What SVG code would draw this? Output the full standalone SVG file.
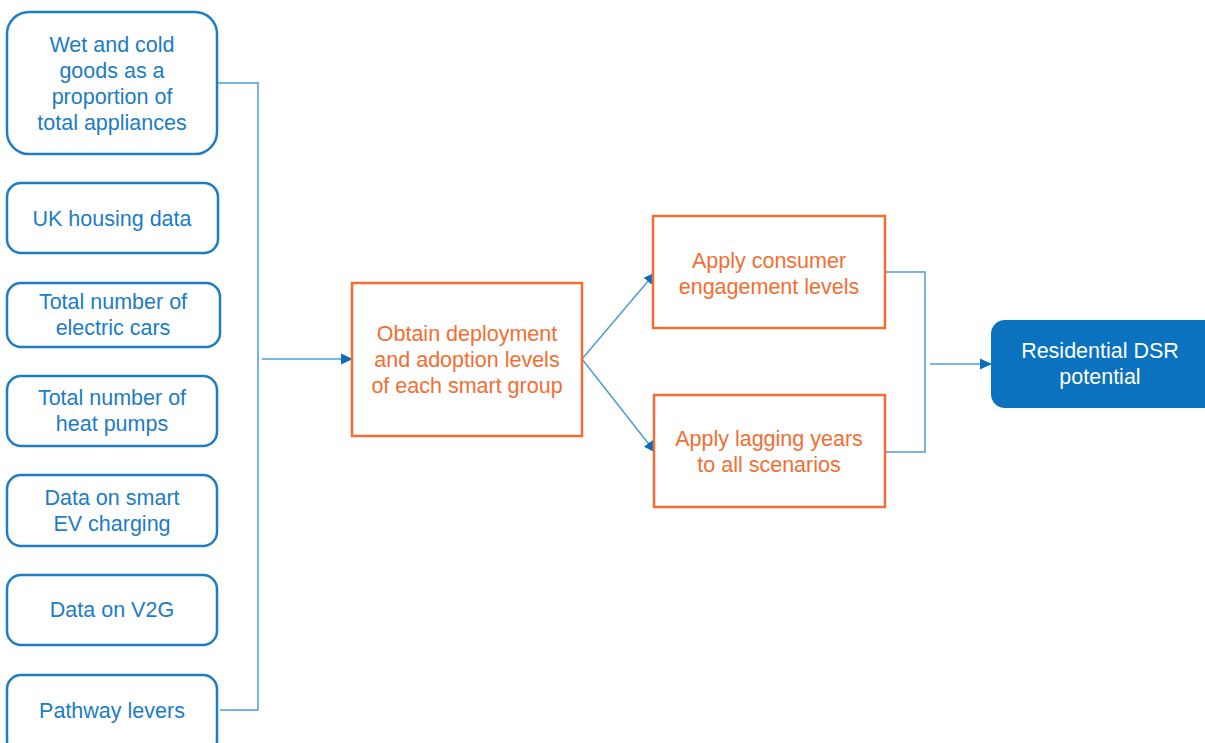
<svg xmlns="http://www.w3.org/2000/svg" width="1205" height="743" viewBox="0 0 1205 743">
<style>
.in rect{fill:#fff;stroke:#1C7CC4;stroke-width:2.5}
.in text{fill:#1C7CC4}
.pr rect{fill:#fff;stroke:#F26E32;stroke-width:2.5}
.pr text{fill:#F26E32}
text{font-family:"Liberation Sans",Arial,sans-serif;font-size:21.5px;text-anchor:middle}
.out rect{fill:#0A72BE}
.out text{fill:#fff}
.cn{fill:none;stroke:#4F9BD5;stroke-width:1.5}
</style>
<defs>
<marker id="ah" viewBox="0 0 12 12" refX="11" refY="6" markerWidth="12" markerHeight="12" markerUnits="userSpaceOnUse" orient="auto">
<path d="M0,0.5 L12,6 L0,11.5 z" fill="#0A6EBD"/>
</marker>
</defs>
<rect width="1205" height="743" fill="#fff"/>
<g id="connectors">
<polyline class="cn" points="217,83 258,83 258,710 220,710"/>
<line class="cn" x1="262" y1="359" x2="352" y2="359" marker-end="url(#ah)"/>
<line class="cn" x1="582" y1="359" x2="655" y2="273" marker-end="url(#ah)"/>
<line class="cn" x1="582" y1="359" x2="655" y2="452" marker-end="url(#ah)"/>
<polyline class="cn" points="885,272 925,272 925,452 885,452"/>
<line class="cn" x1="930" y1="364" x2="991" y2="364" marker-end="url(#ah)"/>
</g>
<g id="n1" class="in"><rect x="7" y="12" width="210" height="142" rx="22"/>
<text x="112" y="52">Wet and cold</text><text x="112" y="78">goods as a</text><text x="112" y="104">proportion of</text><text x="112" y="130">total appliances</text></g>
<g id="n2" class="in"><rect x="7" y="183" width="211" height="70" rx="14"/>
<text x="112" y="226">UK housing data</text></g>
<g id="n3" class="in"><rect x="7" y="283" width="213" height="64" rx="14"/>
<text x="113" y="309">Total number of</text><text x="113" y="335">electric cars</text></g>
<g id="n4" class="in"><rect x="7" y="376" width="210" height="70" rx="14"/>
<text x="112" y="405">Total number of</text><text x="112" y="431">heat pumps</text></g>
<g id="n5" class="in"><rect x="7" y="475" width="210" height="71" rx="14"/>
<text x="112" y="505">Data on smart</text><text x="112" y="531">EV charging</text></g>
<g id="n6" class="in"><rect x="7" y="575" width="210" height="70" rx="14"/>
<text x="112" y="617">Data on V2G</text></g>
<g id="n7" class="in"><rect x="7" y="675" width="210" height="80" rx="14"/>
<text x="112" y="718">Pathway levers</text></g>
<g id="n8" class="pr"><rect x="352" y="283" width="230" height="153"/>
<text x="467" y="341">Obtain deployment</text><text x="467" y="367">and adoption levels</text><text x="467" y="393">of each smart group</text></g>
<g id="n9" class="pr"><rect x="653" y="216" width="232" height="112"/>
<text x="769" y="268">Apply consumer</text><text x="769" y="294">engagement levels</text></g>
<g id="n10" class="pr"><rect x="654" y="395" width="231" height="112"/>
<text x="769" y="446">Apply lagging years</text><text x="769" y="472">to all scenarios</text></g>
<g id="n11" class="out"><rect x="991" y="320" width="230" height="88" rx="14"/>
<text x="1100" y="358">Residential DSR</text><text x="1100" y="384">potential</text></g>
</svg>
